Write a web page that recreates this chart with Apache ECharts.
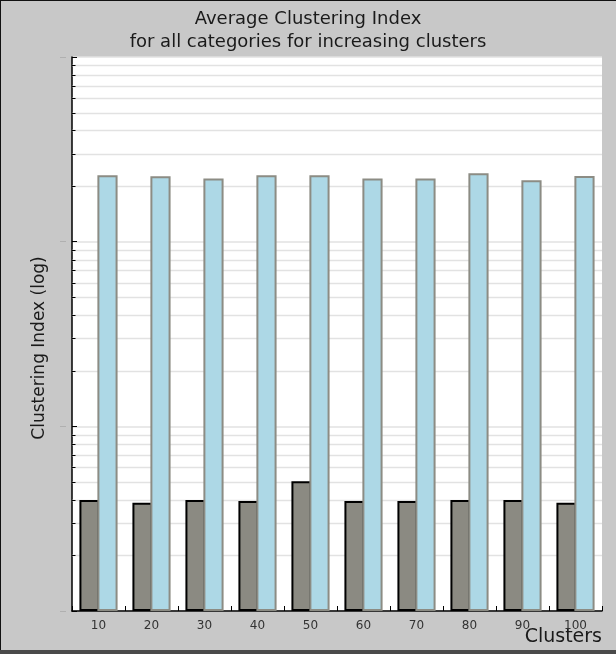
<!DOCTYPE html>
<html>
<head>
<meta charset="utf-8">
<script src="https://cdn.jsdelivr.net/npm/echarts@6/dist/echarts.min.js"></script>
<style>
  html, body { margin: 0; padding: 0; background: #c8c8c8; }
  #chart { width: 616px; height: 654px; }
</style>
</head>
<body>
<div id="chart"></div>
<script>
// Cluster counts along the x axis
const clusters = ['10', '20', '30', '40', '50', '60', '70', '80', '90', '100'];

// Average clustering index per cluster count, two series
const seriesLow = [3.99, 3.86, 3.99, 3.94, 5.04, 3.94, 3.94, 3.99, 3.99, 3.86];
const seriesHigh = [229, 226, 220, 229, 229, 220, 220, 235, 215, 227];

// Log axis range and the in-between grid values (2..9 of each decade)
const yMin = 1;
const yMax = 1000;
const minorValues = [
  2, 3, 4, 5, 6, 7, 8, 9,
  20, 30, 40, 50, 60, 70, 80, 90,
  200, 300, 400, 500, 600, 700, 800, 900
];

const chart = echarts.init(document.getElementById('chart'), null, { renderer: 'canvas' });

const FONT = 'DejaVu Sans';

const option = {
  animation: false,
  backgroundColor: '#c8c8c8',
  textStyle: { fontFamily: FONT },
  title: {
    text: 'Average Clustering Index\nfor all categories for increasing clusters',
    left: 'center',
    top: 3,
    textStyle: {
      fontFamily: FONT,
      fontSize: 18,
      fontWeight: 'normal',
      lineHeight: 23,
      color: '#1a1a1a'
    }
  },
  graphic: [
    { type: 'line', shape: { x1: 0, y1: 0.5, x2: 616, y2: 0.5 }, style: { stroke: '#111', lineWidth: 1 }, silent: true },
    { type: 'line', shape: { x1: 0.5, y1: 0, x2: 0.5, y2: 654 }, style: { stroke: '#111', lineWidth: 1 }, silent: true },
    { type: 'rect', shape: { x: 0, y: 650, width: 616, height: 4 }, style: { fill: '#4a4a4a' }, silent: true },
    {
      type: 'text',
      right: 14,
      top: 628,
      style: { text: 'Clusters', font: '19px "DejaVu Sans"', fill: '#1a1a1a' },
      silent: true
    },
    {
      type: 'text',
      x: 40,
      y: 348,
      rotation: Math.PI / 2,
      style: {
        text: 'Clustering Index (log)',
        font: '17px "DejaVu Sans"',
        fill: '#1a1a1a',
        align: 'center',
        verticalAlign: 'middle'
      },
      silent: true
    }
  ],
  grid: {
    left: 72,
    right: 14,
    top: 57,
    bottom: 43,
    show: true,
    backgroundColor: '#ffffff',
    borderWidth: 0
  },
  xAxis: {
    type: 'category',
    data: clusters,
    axisLine: { show: true, lineStyle: { color: '#000', width: 1.5 } },
    axisTick: { show: true, inside: true, length: 5, lineStyle: { color: '#000' } },
    axisLabel: { color: '#333', fontSize: 12, margin: 9, fontFamily: FONT },
    splitLine: { show: false }
  },
  yAxis: [
    {
      type: 'log',
      logBase: 10,
      min: yMin,
      max: yMax,
      axisLine: { show: true, lineStyle: { color: '#000', width: 1.5 } },
      axisTick: { show: true, inside: true, length: 5, lineStyle: { color: '#000' } },
      axisLabel: { show: false },
      splitLine: { show: true, lineStyle: { color: '#e2e2e2', width: 1.5 } }
    },
    {
      type: 'log',
      logBase: 10,
      min: yMin,
      max: yMax,
      position: 'left',
      offset: 6,
      axisLine: { show: false },
      axisTick: { show: true, inside: false, length: 6, lineStyle: { color: '#b0b0b0' } },
      axisLabel: { show: false },
      splitLine: { show: false }
    }
  ],
  series: [
    {
      // minor grid lines and inner minor ticks at 2..9 of each decade
      type: 'custom',
      z: 1,
      silent: true,
      data: minorValues.map(v => [0, v]),
      encode: { x: 0, y: 1 },
      renderItem: function (params, api) {
        const cs = params.coordSys;
        const y = Math.round(api.coord([0, api.value(1)])[1]) + 0.5;
        return {
          type: 'group',
          children: [
            {
              type: 'line',
              shape: { x1: cs.x, y1: y, x2: cs.x + cs.width, y2: y },
              style: { stroke: '#e2e2e2', lineWidth: 1.5 }
            },
            {
              type: 'line',
              shape: { x1: cs.x, y1: y, x2: cs.x + 3.5, y2: y },
              style: { stroke: '#000', lineWidth: 1 }
            }
          ]
        };
      }
    },
    {
      name: 'low',
      type: 'bar',
      z: 2,
      data: seriesLow,
      barGap: '-11%',
      barCategoryGap: '28%',
      itemStyle: { color: '#8b8a82', borderColor: '#000', borderWidth: 2 }
    },
    {
      name: 'high',
      type: 'bar',
      z: 3,
      data: seriesHigh,
      barGap: '-11%',
      barCategoryGap: '28%',
      itemStyle: { color: '#add8e6', borderColor: '#8c8c84', borderWidth: 2 }
    }
  ]
};

chart.setOption(option);
</script>
</body>
</html>
